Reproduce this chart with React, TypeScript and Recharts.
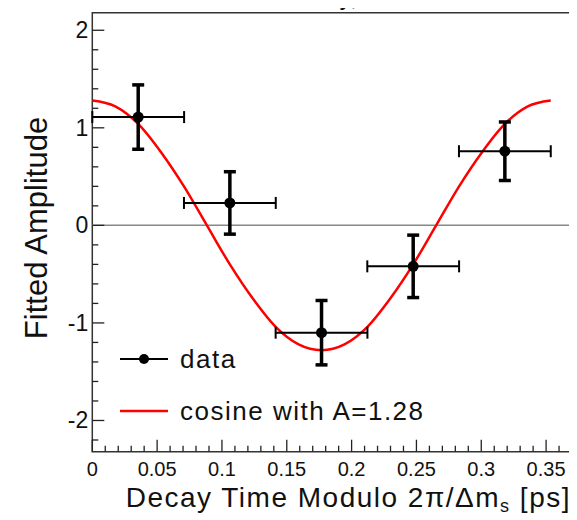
import React from 'react';
import {
  ComposedChart,
  Line,
  Scatter,
  XAxis,
  YAxis,
  ErrorBar,
  ReferenceLine,
  ReferenceArea,
  Customized,
} from 'recharts';

// ---- data ----
const curveTime = [
  0, 0.0177, 0.0354, 0.053, 0.0707, 0.0884, 0.1061, 0.1238, 0.1414, 0.1591, 0.1768,
  0.1945, 0.2122, 0.2298, 0.2475, 0.2652, 0.2829, 0.3006, 0.3182, 0.3359, 0.3536,
];
const curveAmp = [
  1.28, 1.22, 1.04, 0.75, 0.4, 0, -0.4, -0.75, -1.04, -1.22, -1.28,
  -1.22, -1.04, -0.75, -0.4, 0, 0.4, 0.75, 1.04, 1.22, 1.28,
];
const binCenters = [0.0354, 0.1061, 0.1768, 0.2475, 0.3182];
const binHalfWidths = [0.0354, 0.0354, 0.0354, 0.0354, 0.0354];
const fittedAmp = [1.11, 0.23, -1.1, -0.42, 0.76];
const ampErrors = [0.33, 0.32, 0.33, 0.32, 0.3];

const xMajorTicks = [0, 0.05, 0.1, 0.15, 0.2, 0.25, 0.3, 0.35];
const xMinorTicks = [
  0.01, 0.02, 0.03, 0.04, 0.06, 0.07, 0.08, 0.09, 0.11, 0.12, 0.13, 0.14, 0.16, 0.17,
  0.18, 0.19, 0.21, 0.22, 0.23, 0.24, 0.26, 0.27, 0.28, 0.29, 0.31, 0.32, 0.33, 0.34,
  0.36,
];
const yMajorTicks = [-2, -1, 0, 1, 2];
const yMinorTicks = [
  -2.2, -1.8, -1.6, -1.4, -1.2, -0.8, -0.6, -0.4, -0.2, 0.2, 0.4, 0.6, 0.8, 1.2, 1.4,
  1.6, 1.8,
];

const xDomain = [0, 0.3696];
const yDomain = [-2.32, 2.18];

const FONT = '"Liberation Sans", Arial, Helvetica, sans-serif';

const curveData = curveTime.map((t, i) => ({ x: t, amp: curveAmp[i] }));
const pointData = binCenters.map((c, i) => ({
  x: c,
  y: fittedAmp[i],
  ex: binHalfWidths[i],
  ey: ampErrors[i],
}));
const xTicks = [...xMajorTicks, ...xMinorTicks].sort((a, b) => a - b);
const yTicks = [...yMajorTicks, ...yMinorTicks].sort((a, b) => a - b);

const isIn = (arr: number[], v: number) => arr.some((m) => Math.abs(m - v) < 1e-6);

const XTick = (props: any) => {
  const { x, y, payload } = props;
  const v = payload.value;
  const major = isIn(xMajorTicks, v);
  return (
    <g>
      <line x1={x} x2={x} y1={y} y2={y - (major ? 12 : 6)} stroke="#222" strokeWidth={1.3} />
      {major && (
        <text x={x} y={y + 24} textAnchor="middle" fontSize={20} fill="#111" fontFamily={FONT}>
          {String(v)}
        </text>
      )}
    </g>
  );
};

const YTick = (props: any) => {
  const { x, y, payload } = props;
  const v = payload.value;
  const major = isIn(yMajorTicks, v);
  return (
    <g>
      <line x1={x} x2={x + (major ? 12 : 6)} y1={y} y2={y} stroke="#222" strokeWidth={1.3} />
      {major && (
        <text x={x - 4} y={y + 8} textAnchor="end" fontSize={23} fill="#111" fontFamily={FONT}>
          {String(v)}
        </text>
      )}
    </g>
  );
};

const Overlay = () => (
  <g fontFamily={FONT} fill="#111">
    <text x={95} y={5} fontSize={25} fill="#111">CDF Run II Preliminary,</text>
    <text x={468} y={5} fontSize={25} fill="#111">L = 1 fb⁻¹</text>
    <text
      x={47}
      y={228}
      fontSize={31}
      textAnchor="middle"
      transform="rotate(-90 47 228)"
    >
      Fitted Amplitude
    </text>
    <text x={571} y={507} fontSize={28} textAnchor="end" letterSpacing={1.5}>
      Decay Time Modulo 2π/Δm
      <tspan fontSize={18} dy={5}>s</tspan>
      <tspan dy={-5}> [ps]</tspan>
    </text>
    {/* legend */}
    <line x1={120} x2={168} y1={359} y2={359} stroke="#000" strokeWidth={2} />
    <circle cx={144} cy={359} r={5} fill="#000" />
    <text x={180} y={368} fontSize={26} letterSpacing={1.5}>data</text>
    <line x1={120} x2={168} y1={411} y2={411} stroke="#ff0000" strokeWidth={2.5} />
    <text x={180} y={420} fontSize={26} letterSpacing={1.5}>cosine with A=1.28</text>
  </g>
);

export default function App() {
  return (
    <div style={{ marginLeft: -8, marginTop: -8, width: 577, height: 520, background: '#fff' }}>
      <ComposedChart
        width={577}
        height={520}
        data={curveData}
        margin={{ top: 12.7, right: 5.5, bottom: 0, left: 0 }}
        style={{ overflow: 'visible' }}
      >
        <XAxis
          dataKey="x"
          type="number"
          domain={xDomain}
          ticks={xTicks}
          interval={0}
          tick={<XTick />}
          tickLine={false}
          tickSize={0}
          tickMargin={0}
          axisLine={false}
          height={68.3}
          allowDataOverflow
        />
        <YAxis
          type="number"
          domain={yDomain}
          ticks={yTicks}
          interval={0}
          tick={<YTick />}
          tickLine={false}
          tickSize={0}
          tickMargin={0}
          axisLine={false}
          width={92.3}
          allowDataOverflow
        />
        <ReferenceLine y={0} stroke="#888" strokeWidth={1.5} />
        <Line
          dataKey="amp"
          type="monotone"
          stroke="#ff0000"
          strokeWidth={2.5}
          dot={false}
          isAnimationActive={false}
        />
        <Scatter
          data={pointData}
          dataKey="y"
          fill="#000"
          isAnimationActive={false}
          shape={(p: any) => <circle cx={p.cx} cy={p.cy} r={5.5} fill="#000" />}
        >
          <ErrorBar dataKey="ex" direction="x" width={6} stroke="#000" strokeWidth={2} />
          <ErrorBar dataKey="ey" direction="y" width={6} stroke="#000" strokeWidth={3.5} />
        </Scatter>
        <ReferenceArea
          x1={xDomain[0]}
          x2={xDomain[1]}
          y1={yDomain[0]}
          y2={yDomain[1]}
          fill="none"
          fillOpacity={0}
          stroke="#333"
          strokeWidth={1.5}
        />
        <Customized component={Overlay} />
      </ComposedChart>
    </div>
  );
}
